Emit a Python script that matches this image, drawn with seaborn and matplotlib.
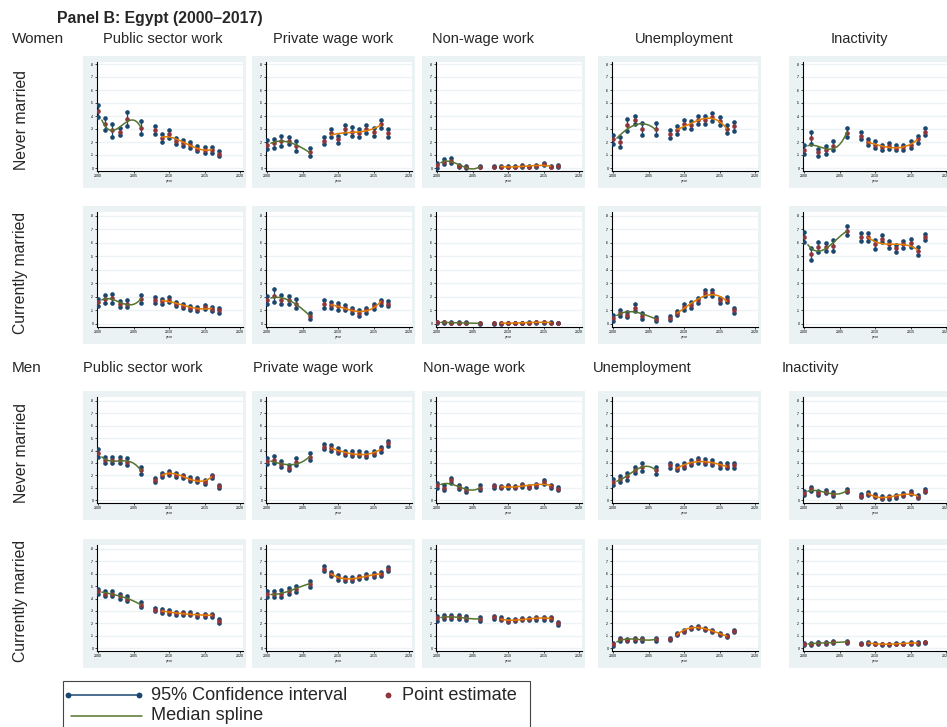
import numpy as np
import pandas as pd
import matplotlib
matplotlib.use("Agg")
import matplotlib.pyplot as plt
from matplotlib.patches import Rectangle
from matplotlib.lines import Line2D
import seaborn as sns

# ---------------------------------------------------------------- data
YEARS = [2000, 2001, 2002, 2003, 2004, 2006, 2008, 2009, 2010,
         2011, 2012, 2013, 2014, 2015, 2016, 2017]
EARLY_YEARS = [2000, 2001, 2002, 2003, 2004, 2006]           # first spline
LATE_YEARS = [2009, 2010, 2011, 2012, 2013, 2014, 2015, 2016]  # second spline

OUTCOMES = ["Public sector work", "Private wage work", "Non-wage work",
            "Unemployment", "Inactivity"]
ROW_LABELS = ["Never married", "Currently married",
              "Never married", "Currently married"]
GROUPS = ["Women", "Men"]
YTICKS = [0, .1, .2, .3, .4, .5, .6, .7, .8]
YTICK_LABELS = ["0", ".1", ".2", ".3", ".4", ".5", ".6", ".7", ".8"]
XTICKS = [2000, 2005, 2010, 2015, 2020]

# Women, never married (point estimate / 95% CI half-width)
W_NM_PUBLIC = [.44, .34, .29, .28, .38, .31, .29, .23, .26, .21, .19, .18, .15, .14, .14, .11]
W_NM_PUBLIC_HW = [.048, .046, .049, .026, .054, .048, .031, .028, .032, .023, .024, .023, .022, .022, .021, .019]
W_NM_PRIVATE = [.18, .19, .21, .21, .17, .12, .21, .27, .22, .30, .28, .27, .30, .28, .34, .27]
W_NM_PRIVATE_HW = [.035, .036, .039, .026, .037, .031, .028, .032, .028, .030, .032, .031, .032, .030, .032, .028]
W_NM_NONWAGE = [.02, .05, .055, .015, .01, .01, .01, .01, .01, .01, .015, .01, .015, .03, .01, .015]
W_NM_NONWAGE_HW = [.018, .018, .02, .01, .008, .006, .006, .006, .006, .005, .006, .006, .006, .01, .005, .007]
W_NM_UNEMP = [.22, .20, .33, .37, .30, .30, .26, .29, .34, .33, .37, .37, .39, .36, .30, .32]
W_NM_UNEMP_HW = [.035, .035, .045, .031, .043, .045, .030, .031, .032, .030, .031, .031, .032, .032, .031, .032]
W_NM_INACT = [.14, .23, .12, .14, .17, .27, .25, .20, .18, .16, .17, .155, .16, .18, .22, .28]
W_NM_INACT_HW = [.035, .045, .03, .03, .035, .035, .025, .025, .025, .02, .025, .02, .02, .025, .025, .025]

# Women, currently married
W_CM_PUBLIC = [.16, .185, .19, .15, .15, .185, .18, .167, .18, .15, .135, .12, .11, .127, .11, .10]
W_CM_PUBLIC_HW = [.025, .031, .033, .021, .026, .033, .022, .021, .02, .016, .016, .017, .017, .016, .015, .016]
W_CM_PRIVATE = [.18, .21, .18, .18, .15, .06, .15, .14, .13, .12, .10, .08, .10, .13, .16, .15]
W_CM_PRIVATE_HW = [.03, .05, .035, .03, .035, .025, .03, .025, .025, .02, .02, .02, .02, .02, .02, .02]
W_CM_NONWAGE = [.012, .012, .01, .008, .008, .005, .006, .006, .007, .008, .008, .01, .012, .014, .01, .008]
W_CM_NONWAGE_HW = [.005, .005, .005, .004, .004, .003, .003, .003, .003, .003, .003, .003, .003, .004, .003, .003]
W_CM_UNEMP = [.045, .08, .07, .12, .06, .04, .045, .08, .125, .14, .175, .23, .23, .175, .18, .10]
W_CM_UNEMP_HW = [.02, .02, .02, .025, .02, .015, .015, .015, .02, .02, .02, .02, .02, .02, .02, .02]
W_CM_INACT = [.645, .52, .57, .57, .58, .69, .645, .645, .59, .63, .59, .56, .59, .60, .54, .645]
W_CM_INACT_HW = [.034, .043, .036, .027, .042, .034, .031, .028, .031, .026, .026, .028, .026, .028, .027, .025]

# Men, never married
M_NM_PUBLIC = [.38, .32, .32, .32, .31, .24, .16, .20, .22, .20, .19, .17, .16, .145, .19, .11]
M_NM_PUBLIC_HW = [.03, .025, .025, .025, .03, .03, .015, .015, .015, .015, .015, .015, .015, .015, .015, .015]
M_NM_PRIVATE = [.315, .325, .29, .26, .31, .35, .43, .42, .40, .38, .375, .375, .365, .38, .41, .46]
M_NM_PRIVATE_HW = [.027, .03, .024, .02, .03, .027, .02, .022, .019, .019, .018, .018, .02, .019, .02, .02]
M_NM_NONWAGE = [.12, .10, .16, .105, .08, .10, .11, .105, .11, .105, .12, .105, .12, .145, .11, .09]
M_NM_NONWAGE_HW = [.02, .018, .02, .015, .015, .018, .015, .012, .012, .012, .012, .012, .012, .015, .012, .012]
M_NM_UNEMP = [.145, .17, .19, .24, .265, .24, .28, .26, .275, .30, .32, .31, .30, .28, .275, .28]
M_NM_UNEMP_HW = [.025, .025, .025, .025, .03, .03, .02, .02, .02, .02, .02, .02, .02, .02, .02, .02]
M_NM_INACT = [.054, .09, .057, .068, .05, .076, .035, .05, .035, .02, .022, .03, .043, .057, .027, .076]
M_NM_INACT_HW = [.015, .018, .015, .015, .015, .015, .012, .012, .01, .01, .01, .01, .01, .012, .01, .012]

# Men, currently married
M_CM_PUBLIC = [.46, .44, .44, .42, .40, .35, .31, .30, .29, .28, .28, .275, .265, .265, .265, .22]
M_CM_PUBLIC_HW = [.02, .02, .02, .02, .02, .02, .015, .015, .015, .012, .012, .012, .012, .012, .012, .015]
M_CM_PRIVATE = [.435, .435, .44, .46, .48, .52, .64, .60, .57, .56, .56, .57, .58, .59, .60, .64]
M_CM_PRIVATE_HW = [.025, .025, .025, .025, .025, .025, .02, .018, .018, .015, .015, .015, .015, .015, .015, .018]
M_CM_NONWAGE = [.24, .25, .25, .25, .24, .235, .25, .235, .22, .225, .235, .235, .24, .24, .24, .20]
M_CM_NONWAGE_HW = [.018, .018, .018, .015, .015, .018, .012, .012, .012, .01, .01, .01, .01, .01, .01, .012]
M_CM_UNEMP = [.03, .07, .065, .07, .07, .07, .07, .11, .14, .16, .17, .155, .14, .11, .10, .14]
M_CM_UNEMP_HW = [.01, .012, .01, .01, .01, .01, .008, .008, .008, .008, .008, .008, .008, .008, .008, .008]
M_CM_INACT = [.03, .035, .04, .04, .045, .05, .035, .04, .035, .03, .03, .035, .035, .04, .04, .045]
M_CM_INACT_HW = [.008, .008, .008, .008, .008, .008, .006, .006, .006, .005, .005, .005, .005, .005, .005, .006]

PANELS = [
    [(W_NM_PUBLIC, W_NM_PUBLIC_HW), (W_NM_PRIVATE, W_NM_PRIVATE_HW), (W_NM_NONWAGE, W_NM_NONWAGE_HW),
     (W_NM_UNEMP, W_NM_UNEMP_HW), (W_NM_INACT, W_NM_INACT_HW)],
    [(W_CM_PUBLIC, W_CM_PUBLIC_HW), (W_CM_PRIVATE, W_CM_PRIVATE_HW), (W_CM_NONWAGE, W_CM_NONWAGE_HW),
     (W_CM_UNEMP, W_CM_UNEMP_HW), (W_CM_INACT, W_CM_INACT_HW)],
    [(M_NM_PUBLIC, M_NM_PUBLIC_HW), (M_NM_PRIVATE, M_NM_PRIVATE_HW), (M_NM_NONWAGE, M_NM_NONWAGE_HW),
     (M_NM_UNEMP, M_NM_UNEMP_HW), (M_NM_INACT, M_NM_INACT_HW)],
    [(M_CM_PUBLIC, M_CM_PUBLIC_HW), (M_CM_PRIVATE, M_CM_PRIVATE_HW), (M_CM_NONWAGE, M_CM_NONWAGE_HW),
     (M_CM_UNEMP, M_CM_UNEMP_HW), (M_CM_INACT, M_CM_INACT_HW)],
]

# ---------------------------------------------------------------- style
NAVY = "#1a476f"
MAROON = "#90353b"
GREEN = "#55752f"
ORANGE = "#e37e00"
PANEL_BG = "#eaf2f3"
GRID = "#edf3f5"

sns.set_theme(style="white")
plt.rcParams["font.family"] = ["Liberation Sans", "DejaVu Sans"]

W, H = 947, 727
fig = plt.figure(figsize=(W / 100, H / 100), dpi=100)
fig.patch.set_facecolor("white")


def fx(x):
    return x / W


def fy(y):
    return 1 - y / H


# column y-axis positions (px) and row geometry: plot top, plot bottom, y=0, y=.8
COL_X = [97, 266, 436, 612, 803]
PLOT_W = 146
PX_PER_YEAR = 7.08
ROWS = [(62, 171, 168, 64), (212, 327, 324, 216), (397, 503, 500, 401), (545, 651, 648, 549)]


def draw_panel(ax, est, hw):
    df = pd.DataFrame({"year": YEARS, "est": est, "hw": hw})
    df["lo"] = df["est"] - df["hw"]
    df["hi"] = df["est"] + df["hw"]
    ax.vlines(df["year"], df["lo"], df["hi"], color=NAVY, lw=0.9, zorder=3)
    ends = pd.concat([
        pd.DataFrame({"year": df["year"], "v": df["lo"]}),
        pd.DataFrame({"year": df["year"], "v": df["hi"]}),
    ])
    sns.scatterplot(data=ends, x="year", y="v", color=NAVY, s=11, linewidth=0,
                    ax=ax, zorder=4, legend=False)
    sns.scatterplot(data=df, x="year", y="est", color=MAROON, s=11, linewidth=0,
                    ax=ax, zorder=5, legend=False)
    # smoothed trend for each survey period
    for yrs, color, x0 in [(EARLY_YEARS, GREEN, 2000.5), (LATE_YEARS, ORANGE, 2009)]:
        sel = df[df["year"].isin(yrs)]
        coef = np.polyfit(sel["year"] - 2008, sel["est"], 3)
        xs = np.linspace(x0, max(yrs), 80)
        ys = np.polyval(coef, xs - 2008)
        sns.lineplot(x=xs, y=ys, color=color, lw=1.1, ax=ax, zorder=6,
                     sort=False, estimator=None)


for r, (top, bot, y0, y8) in enumerate(ROWS):
    scale = (y0 - y8) / 0.8
    ylo = -(bot - y0) / scale
    yhi = 0.8 + (y8 - top) / scale
    for c, cx in enumerate(COL_X):
        # light panel background, drawn beneath the axes
        fig.patches.append(Rectangle((fx(cx - 14), fy(bot + 17)), fx(163), (bot + 17 - (top - 6)) / H,
                                     transform=fig.transFigure, facecolor=PANEL_BG,
                                     edgecolor="none", zorder=-10))
        ax = fig.add_axes([fx(cx), fy(bot), fx(PLOT_W), (bot - top) / H])
        ax.set_facecolor("white")
        est, hw = PANELS[r][c]
        draw_panel(ax, est, hw)
        x_lo = 2000 - 1.3 / PX_PER_YEAR
        ax.set_xlim(x_lo, x_lo + PLOT_W / PX_PER_YEAR)
        ax.set_ylim(ylo, yhi)
        ax.set_xticks(XTICKS)
        ax.set_xticklabels([str(t) for t in XTICKS])
        ax.set_yticks(YTICKS)
        ax.set_yticklabels(YTICK_LABELS)
        ax.grid(axis="y", color=GRID, lw=1.0)
        ax.grid(axis="x", visible=False)
        ax.set_axisbelow(True)
        ax.tick_params(axis="both", length=1.6, width=0.5, pad=0.8,
                       labelsize=2.6, colors="black", bottom=True, left=True)
        ax.set_xlabel("year", fontsize=2.6, labelpad=0.4)
        ax.set_ylabel("")
        for side in ["top", "right"]:
            ax.spines[side].set_visible(False)
        for side in ["left", "bottom"]:
            ax.spines[side].set_color("black")
            ax.spines[side].set_linewidth(0.8)

# ---------------------------------------------------------------- headings
fig.text(fx(57), fy(19), "Panel B: Egypt (2000\u20132017)", fontsize=11.4,
         fontweight="bold", ha="left", va="center")
fig.text(fx(12), fy(39), GROUPS[0], fontsize=11, ha="left", va="center")
WOMEN_TITLE_X = [163, 333, 483, 684, 859]
for name, x in zip(OUTCOMES, WOMEN_TITLE_X):
    fig.text(fx(x), fy(39), name, fontsize=10.5, ha="center", va="center")

fig.text(fx(12), fy(368), GROUPS[1], fontsize=11, ha="left", va="center")
MEN_TITLE_X = [83, 253, 423, 593, 782]
for name, x in zip(OUTCOMES, MEN_TITLE_X):
    fig.text(fx(x), fy(368), name, fontsize=10.5, ha="left", va="center")

for label, (top, bot, y0, y8) in zip(ROW_LABELS, ROWS):
    fig.text(fx(21), fy((top + bot) / 2 + 3), label, fontsize=11.3, rotation=90,
             ha="center", va="center")

# ---------------------------------------------------------------- legend
fig.patches.append(Rectangle((fx(63), fy(740)), fx(467), (740 - 681) / H,
                             transform=fig.transFigure, facecolor="white",
                             edgecolor="#444444", lw=0.8, zorder=1))
fig.lines.append(Line2D([fx(68), fx(139)], [fy(695), fy(695)], transform=fig.transFigure,
                        color=NAVY, lw=1.1, marker="o", markersize=4.2,
                        markerfacecolor=NAVY, markeredgewidth=0, zorder=2))
fig.text(fx(151), fy(695), "95% Confidence interval", fontsize=13.1, ha="left", va="center")
fig.lines.append(Line2D([fx(388)], [fy(695)], transform=fig.transFigure, color=MAROON,
                        lw=0, marker="o", markersize=4.2, markeredgewidth=0, zorder=2))
fig.text(fx(402), fy(695), "Point estimate", fontsize=13.1, ha="left", va="center")
fig.lines.append(Line2D([fx(71), fx(142)], [fy(716), fy(716)], transform=fig.transFigure,
                        color=GREEN, lw=1.1, zorder=2))
fig.text(fx(151), fy(716), "Median spline", fontsize=13.1, ha="left", va="center")

fig.savefig("out.png", dpi=100, facecolor="white")
